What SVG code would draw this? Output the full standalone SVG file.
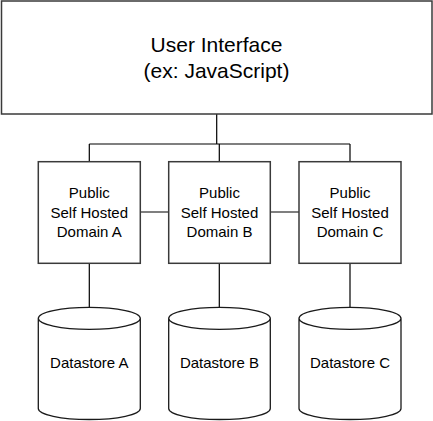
<svg xmlns="http://www.w3.org/2000/svg" width="433" height="421" viewBox="0 0 433 421">
<style>
.box{fill:#fff;stroke:#3a3a3a;stroke-width:1.5}
.cyl{fill:#fff;stroke:#1a1a1a;stroke-width:1.3}
.conn{fill:none;stroke:#000;stroke-width:1.2}
text{font-family:"Liberation Sans",Arial,sans-serif;fill:#000;text-anchor:middle}
.t1{font-size:21px}
.t2{font-size:15px}
</style>
<rect width="433" height="421" fill="#fff"/>
<g id="connectors">
<path class="conn" d="M216.7,114 V144 M89.3,144 H350 M89.3,144 V162 M219.3,144 V162 M350,144 V162"/>
<path class="conn" d="M140.3,212 H168.7 M270.3,212 H299"/>
<path class="conn" d="M89.3,263.3 V307.3 M219.3,263.3 V307.3 M350,263.3 V307.3"/>
</g>
<g id="ui">
<rect class="box" x="1.5" y="1" width="430.5" height="113"/>
<text class="t1" x="216.5" y="51.5">User Interface</text>
<text class="t1" x="216.5" y="77.5">(ex: JavaScript)</text>
</g>
<g id="domainA">
<rect class="box" x="38.3" y="161.7" width="102" height="101.6"/>
<text class="t2" x="89.3" y="198">Public</text>
<text class="t2" x="89.3" y="217.5">Self Hosted</text>
<text class="t2" x="89.3" y="237">Domain A</text>
</g>
<g id="domainB">
<rect class="box" x="168.7" y="161.7" width="101.6" height="101.6"/>
<text class="t2" x="219.5" y="198">Public</text>
<text class="t2" x="219.5" y="217.5">Self Hosted</text>
<text class="t2" x="219.5" y="237">Domain B</text>
</g>
<g id="domainC">
<rect class="box" x="299" y="161.7" width="102" height="101.6"/>
<text class="t2" x="350" y="198">Public</text>
<text class="t2" x="350" y="217.5">Self Hosted</text>
<text class="t2" x="350" y="237">Domain C</text>
</g>
<g id="datastoreA">
<path class="cyl" d="M38.3,318.3 A51,11 0 0 1 140.3,318.3 V408.5 A51,11 0 0 1 38.3,408.5 Z M38.3,318.3 A51,11 0 0 0 140.3,318.3"/>
<text class="t2" x="89.3" y="368.3">Datastore A</text>
</g>
<g id="datastoreB">
<path class="cyl" d="M168.7,318.3 A50.8,11 0 0 1 270.3,318.3 V408.5 A50.8,11 0 0 1 168.7,408.5 Z M168.7,318.3 A50.8,11 0 0 0 270.3,318.3"/>
<text class="t2" x="219.5" y="368.3">Datastore B</text>
</g>
<g id="datastoreC">
<path class="cyl" d="M299,318.3 A51,11 0 0 1 401,318.3 V408.5 A51,11 0 0 1 299,408.5 Z M299,318.3 A51,11 0 0 0 401,318.3"/>
<text class="t2" x="350" y="368.3">Datastore C</text>
</g>
</svg>
